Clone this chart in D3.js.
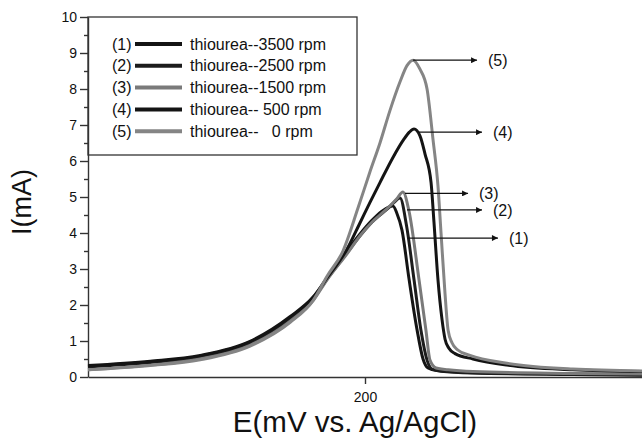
<!DOCTYPE html>
<html>
<head>
<meta charset="utf-8">
<script src="https://cdn.jsdelivr.net/npm/d3@7.9.0/dist/d3.min.js"></script>
<style>
  html, body { margin: 0; padding: 0; background: #fff; }
  svg { display: block; font-family: "Liberation Sans", Arial, sans-serif; }
</style>
</head>
<body>
<svg id="chart" width="642" height="440"></svg>
<script>
// ---------------------------------------------------------------------------
// Data: [E (mV), I (mA)]
// ---------------------------------------------------------------------------
const curve1 = [[0,0.3],[45,0.42],[81,0.58],[117,0.97],[146,1.65],[162.5,2.2],[172.6,2.75],[187,3.5],[197,4.0],[205,4.35],[212,4.6],[217,4.72],[220.2,4.75],[223,4.55],[226.7,4.08],[231.8,2.72],[237.5,1.33],[241.9,0.5],[245.5,0.25],[252,0.18],[278,0.12],[350,0.08],[400,0.06]];
const curve2 = [[0,0.28],[45,0.4],[81,0.56],[117,0.95],[146,1.62],[162.5,2.18],[172.6,2.72],[187,3.45],[197,3.95],[205,4.3],[210.8,4.5],[217,4.7],[221,4.85],[225.3,4.97],[230,4.2],[235.4,2.7],[240.4,1.3],[244.8,0.47],[248.4,0.22],[255,0.16],[278,0.11],[350,0.07],[400,0.05]];
const curve3 = [[0,0.2],[45,0.33],[81,0.5],[117,0.88],[146,1.55],[162.5,2.12],[172.6,2.7],[187,3.42],[197,3.95],[205,4.3],[210.8,4.5],[218,4.75],[223,4.95],[227.4,5.14],[231.8,4.6],[239,2.7],[244,1.3],[246.9,0.47],[251.3,0.25],[260,0.2],[278,0.15],[350,0.1],[400,0.08]];
const curve4 = [[0,0.32],[45,0.44],[81,0.6],[117,0.99],[146,1.68],[162.5,2.22],[172.6,2.75],[187,3.55],[196,4.25],[203.6,4.85],[210.8,5.4],[220.2,6.1],[228,6.6],[232,6.8],[235.4,6.89],[239.7,6.7],[243.3,6.2],[247.7,5.4],[249.8,4.3],[252.7,2.7],[255.6,1.6],[257.8,1.05],[260.6,0.8],[265,0.65],[278,0.5],[302.5,0.33],[350,0.2],[400,0.15]];
const curve5 = [[0,0.2],[45,0.32],[81,0.48],[117,0.86],[146,1.52],[162.5,2.12],[172.6,2.8],[184.1,3.5],[195,4.7],[203.6,5.7],[210.8,6.5],[218,7.4],[225.3,8.2],[230.3,8.65],[234.7,8.8],[239.7,8.55],[244.8,8.0],[249.1,6.6],[252.7,5.3],[254.9,4.0],[257.8,2.3],[260,1.3],[262.8,0.95],[267,0.75],[275.8,0.6],[302.5,0.38],[350,0.22],[400,0.17]];

const seriesData   = [curve1, curve2, curve3, curve4, curve5];
const seriesNames  = ['(1)', '(2)', '(3)', '(4)', '(5)'];
const legendLabels = ['thiourea--3500 rpm', 'thiourea--2500 rpm', 'thiourea--1500 rpm', 'thiourea-- 500 rpm', 'thiourea--   0 rpm'];
const seriesColors = ['#141414', '#1c1c1c', '#7a7a7a', '#141414', '#858585'];

// annotation arrows: from the curve (startE) to the tip (endE) at level I
const annoLabels = ['(5)', '(4)', '(3)', '(2)', '(1)'];
const annoStartE = [234.7, 238.3, 228.9, 230.3, 231];
const annoEndE   = [280.9, 284.5, 274.4, 284.5, 296];
const annoI      = [8.8, 6.8, 5.1, 4.64, 3.86];

const yTicks = d3.range(0, 11, 1);
const yMinor = d3.range(0.5, 10, 1);
const xTicks = [200];

// ---------------------------------------------------------------------------
// Scales
// ---------------------------------------------------------------------------
const svg = d3.select('#chart');
const x = d3.scaleLinear().domain([0, 400]).range([88, 642]);
const y = d3.scaleLinear().domain([0, 10]).range([377, 17]);

// legend box (drawn first, its left edge sits on the axis)
const legend = svg.append('g');
legend.append('rect')
  .attr('x', 88).attr('y', 17)
  .attr('width', 269).attr('height', 138)
  .attr('fill', '#fff')
  .attr('stroke', '#333')
  .attr('stroke-width', 1.3);

legendLabels.forEach((lbl, i) => {
  const ly = 44 + i * 21.8;
  legend.append('text')
    .attr('x', 112).attr('y', ly).attr('dy', '0.35em')
    .attr('font-size', 16).attr('fill', '#111')
    .text(seriesNames[i]);
  legend.append('line')
    .attr('x1', 135).attr('x2', 182)
    .attr('y1', ly).attr('y2', ly)
    .attr('stroke', seriesColors[i])
    .attr('stroke-width', 4);
  legend.append('text')
    .attr('x', 190).attr('y', ly).attr('dy', '0.35em')
    .attr('font-size', 16).attr('fill', '#111')
    .style('white-space', 'pre')
    .text(lbl);
});

// ---------------------------------------------------------------------------
// Axes
// ---------------------------------------------------------------------------
const yAxis = svg.append('g')
  .attr('transform', 'translate(88,0)')
  .call(d3.axisLeft(y).tickValues(yTicks).tickSize(8).tickSizeOuter(0).tickPadding(3));
yAxis.selectAll('text').attr('font-size', 14).attr('fill', '#111');

svg.append('g')
  .attr('transform', 'translate(88,0)')
  .call(d3.axisLeft(y).tickValues(yMinor).tickSize(4).tickSizeOuter(0).tickFormat(''))
  .select('.domain').remove();

const xAxis = svg.append('g')
  .attr('transform', 'translate(0,377)')
  .call(d3.axisBottom(x).tickValues(xTicks).tickSize(7).tickSizeOuter(0).tickPadding(8));
xAxis.selectAll('text').attr('font-size', 14).attr('fill', '#111');

svg.selectAll('.domain, .tick line').attr('stroke', '#333').attr('stroke-width', 1.4);

// axis titles
svg.append('text')
  .attr('transform', 'translate(31,202) rotate(-90)')
  .attr('text-anchor', 'middle')
  .attr('font-size', 27).attr('fill', '#111')
  .text('I(mA)');

svg.append('text')
  .attr('x', 355).attr('y', 432)
  .attr('text-anchor', 'middle')
  .attr('font-size', 29.5).attr('fill', '#111')
  .text('E(mV vs. Ag/AgCl)');

// ---------------------------------------------------------------------------
// Curves
// ---------------------------------------------------------------------------
const line = d3.line()
  .x(d => x(d[0]))
  .y(d => y(d[1]))
  .curve(d3.curveMonotoneX);

svg.append('g')
  .selectAll('path')
  .data(seriesData)
  .join('path')
  .attr('d', line)
  .attr('fill', 'none')
  .attr('stroke', (d, i) => seriesColors[i])
  .attr('stroke-width', 3)
  .attr('stroke-linejoin', 'round');

// ---------------------------------------------------------------------------
// Annotation arrows
// ---------------------------------------------------------------------------
svg.append('defs').append('marker')
  .attr('id', 'arrow')
  .attr('viewBox', '0 0 10 10')
  .attr('refX', 10).attr('refY', 5)
  .attr('markerWidth', 9).attr('markerHeight', 6)
  .attr('markerUnits', 'userSpaceOnUse')
  .attr('orient', 'auto')
  .append('path')
  .attr('d', 'M0,0 L10,5 L0,10 Z')
  .attr('fill', '#111');

const anno = svg.append('g');
annoLabels.forEach((lbl, i) => {
  anno.append('line')
    .attr('x1', x(annoStartE[i])).attr('x2', x(annoEndE[i]))
    .attr('y1', y(annoI[i])).attr('y2', y(annoI[i]))
    .attr('stroke', '#111').attr('stroke-width', 1.2)
    .attr('marker-end', 'url(#arrow)');
  anno.append('text')
    .attr('x', x(annoEndE[i]) + 11)
    .attr('y', y(annoI[i])).attr('dy', '0.35em')
    .attr('font-size', 16).attr('fill', '#111')
    .text(lbl);
});
</script>
</body>
</html>
